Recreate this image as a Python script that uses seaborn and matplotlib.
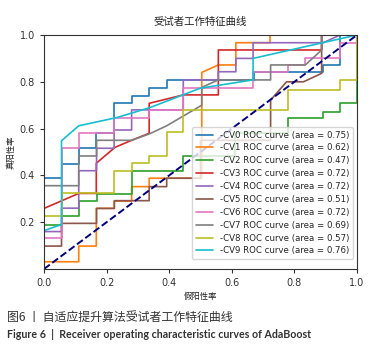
import numpy as np
import pandas as pd
import matplotlib
matplotlib.use('Agg')
import matplotlib.pyplot as plt
import seaborn as sns

# ==================== 数据（从图中读取的ROC曲线点） ====================
cv0_fpr = [0, 0, 0.056, 0.056, 0.111, 0.111, 0.167, 0.167, 0.224, 0.224, 0.28, 0.28, 0.336, 0.336, 0.392, 0.392, 0.67, 0.67, 0.89, 0.89, 0.946, 0.946, 1.0]
cv0_tpr = [0, 0.39, 0.39, 0.45, 0.45, 0.516, 0.516, 0.58, 0.58, 0.708, 0.708, 0.741, 0.741, 0.772, 0.772, 0.808, 0.808, 0.84, 0.84, 0.87, 0.87, 1.0, 1.0]

cv1_fpr = [0, 0, 0.111, 0.111, 0.167, 0.167, 0.224, 0.224, 0.28, 0.28, 0.336, 0.336, 0.504, 0.504, 0.557, 0.613, 0.613, 0.722, 0.722, 1.0]
cv1_tpr = [0, 0.031, 0.031, 0.098, 0.098, 0.259, 0.259, 0.29, 0.29, 0.352, 0.352, 0.388, 0.388, 0.84, 0.872, 0.872, 0.967, 0.967, 1.0, 1.0]

cv2_fpr = [0, 0, 0.056, 0.056, 0.111, 0.111, 0.168, 0.168, 0.28, 0.28, 0.445, 0.445, 0.61, 0.61, 0.78, 0.78, 0.89, 0.89, 0.946, 0.946, 1.0, 1.0]
cv2_tpr = [0, 0.19, 0.19, 0.226, 0.226, 0.29, 0.29, 0.32, 0.32, 0.42, 0.42, 0.483, 0.483, 0.58, 0.58, 0.644, 0.644, 0.672, 0.672, 0.71, 0.71, 1.0]

cv3_fpr = [0, 0, 0.111, 0.167, 0.167, 0.227, 0.28, 0.336, 0.336, 0.445, 0.557, 0.557, 0.887, 0.887, 1.0]
cv3_tpr = [0, 0.259, 0.323, 0.323, 0.452, 0.52, 0.55, 0.58, 0.708, 0.744, 0.744, 0.936, 0.936, 1.0, 1.0]

cv4_fpr = [0, 0, 0.056, 0.056, 0.111, 0.111, 0.168, 0.168, 0.224, 0.224, 0.28, 0.28, 0.445, 0.445, 0.557, 0.557, 0.613, 0.613, 0.668, 0.668, 0.892, 0.946, 1.0]
cv4_tpr = [0, 0.16, 0.16, 0.26, 0.26, 0.42, 0.42, 0.516, 0.516, 0.594, 0.594, 0.68, 0.68, 0.808, 0.808, 0.843, 0.843, 0.9, 0.9, 0.967, 0.967, 1.0, 1.0]

cv5_fpr = [0, 0, 0.056, 0.056, 0.168, 0.168, 0.225, 0.225, 0.336, 0.336, 0.392, 0.392, 0.5, 0.5, 0.724, 0.724, 0.775, 0.829, 0.887, 0.887, 1.0]
cv5_tpr = [0, 0.098, 0.098, 0.195, 0.195, 0.259, 0.259, 0.292, 0.292, 0.352, 0.352, 0.388, 0.388, 0.55, 0.55, 0.722, 0.80, 0.80, 0.836, 1.0, 1.0]

cv6_fpr = [0, 0, 0.056, 0.056, 0.111, 0.111, 0.224, 0.224, 0.336, 0.336, 0.445, 0.445, 0.668, 0.668, 0.78, 0.78, 0.835, 0.835, 0.946, 0.946, 1.0, 1.0]
cv6_tpr = [0, 0.131, 0.131, 0.516, 0.516, 0.58, 0.58, 0.645, 0.645, 0.68, 0.68, 0.772, 0.772, 0.84, 0.84, 0.87, 0.87, 0.90, 0.90, 0.967, 0.967, 1.0]

cv7_fpr = [0, 0, 0.111, 0.111, 0.168, 0.168, 0.28, 0.336, 0.392, 0.504, 0.504, 0.557, 0.724, 0.724, 0.835, 0.887, 0.887, 1.0]
cv7_tpr = [0, 0.356, 0.356, 0.483, 0.483, 0.55, 0.55, 0.577, 0.612, 0.70, 0.776, 0.808, 0.808, 0.872, 0.872, 0.936, 1.0, 1.0]

cv8_fpr = [0, 0, 0.056, 0.056, 0.224, 0.224, 0.28, 0.28, 0.336, 0.336, 0.392, 0.392, 0.445, 0.445, 0.78, 0.78, 0.946, 0.946, 1.0, 1.0]
cv8_tpr = [0, 0.226, 0.226, 0.323, 0.323, 0.419, 0.419, 0.452, 0.452, 0.483, 0.483, 0.584, 0.584, 0.68, 0.68, 0.765, 0.765, 0.808, 0.808, 1.0]

cv9_fpr = [0, 0, 0.056, 0.056, 0.111, 0.232, 0.339, 0.5, 0.668, 0.668, 1.0]
cv9_tpr = [0, 0.164, 0.19, 0.548, 0.612, 0.647, 0.69, 0.773, 0.808, 0.90, 1.0]

auc_values = [0.75, 0.62, 0.47, 0.72, 0.72, 0.51, 0.72, 0.69, 0.57, 0.76]

all_fpr = [cv0_fpr, cv1_fpr, cv2_fpr, cv3_fpr, cv4_fpr, cv5_fpr, cv6_fpr, cv7_fpr, cv8_fpr, cv9_fpr]
all_tpr = [cv0_tpr, cv1_tpr, cv2_tpr, cv3_tpr, cv4_tpr, cv5_tpr, cv6_tpr, cv7_tpr, cv8_tpr, cv9_tpr]

# ==================== 样式 ====================
sns.set_style('ticks')
plt.rcParams['font.family'] = ['DejaVu Sans', 'Noto Sans CJK SC']
plt.rcParams['axes.unicode_minus'] = False

colors = sns.color_palette('tab10', 10)

fig = plt.figure(figsize=(3.75, 3.54), dpi=100)
ax = fig.add_axes([44 / 375, 1 - 269 / 354, 313 / 375, 234 / 354])

for i in range(10):
    sns.lineplot(x=all_fpr[i], y=all_tpr[i], sort=False, estimator=None,
                 color=colors[i], lw=1.2, ax=ax,
                 label=f'-CV{i} ROC curve (area = {auc_values[i]:.2f})')

sns.lineplot(x=[0, 1], y=[0, 1], sort=False, estimator=None, color='navy',
             lw=1.4, linestyle='--', ax=ax)

ax.set_xlim(0, 1)
ax.set_ylim(0, 1)
ax.set_xticks([0.0, 0.2, 0.4, 0.6, 0.8, 1.0])
ax.set_yticks([0.2, 0.4, 0.6, 0.8, 1.0])
ax.tick_params(labelsize=7, length=3, width=0.8, colors='#333333')
for s in ax.spines.values():
    s.set_linewidth(0.8)
    s.set_color('#333333')

ax.set_title('受试者工作特征曲线', fontsize=7.5, pad=7, color='#222222')
ax.set_xlabel('假阳性率', fontsize=6, labelpad=3, color='#222222')
ax.set_ylabel('真阳性率', fontsize=6, labelpad=3, color='#222222')

ax.legend(loc='lower right', bbox_to_anchor=(1.0, 0.025), fontsize=6.2,
          handlelength=2.0, labelspacing=0.45, borderpad=0.4, handletextpad=0.8)

fig.text(0.018, 1 - 318 / 354, '图6 丨 自适应提升算法受试者工作特征曲线',
         fontsize=8.6, family='Noto Sans CJK SC', color='#333333', va='center')
fig.text(0.018, 1 - 335 / 354,
         'Figure 6  |  Receiver operating characteristic curves of AdaBoost',
         fontsize=7.7, family='Lato', weight='bold', color='#333333', va='center')

fig.savefig('out.png', dpi=100)
